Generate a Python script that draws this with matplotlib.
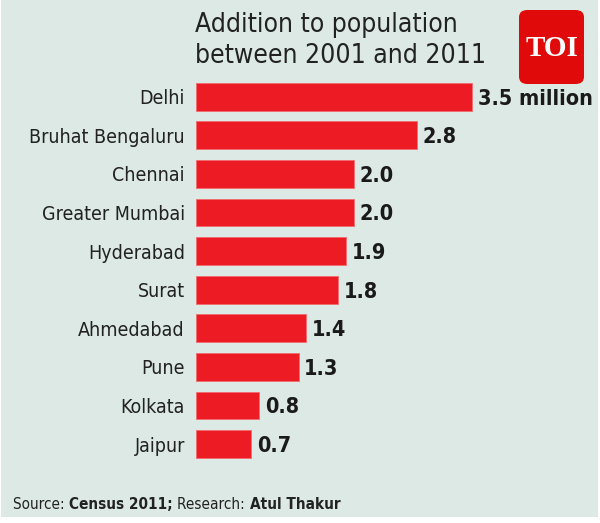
import matplotlib
matplotlib.use("Agg")
import matplotlib.pyplot as plt
from matplotlib.patches import Rectangle, FancyBboxPatch

# data
cities = ["Delhi", "Bruhat Bengaluru", "Chennai", "Greater Mumbai", "Hyderabad",
          "Surat", "Ahmedabad", "Pune", "Kolkata", "Jaipur"]
added = [3.5, 2.8, 2.0, 2.0, 1.9, 1.8, 1.4, 1.3, 0.8, 0.7]
value_text = ["3.5 million", "2.8", "2.0", "2.0", "1.9", "1.8", "1.4", "1.3", "0.8", "0.7"]

BG = "#dce9e4"
RED = "#ed1c24"
plt.rcParams["font.family"] = ["DejaVu Sans"]
plt.rcParams["font.stretch"] = "condensed"

fig = plt.figure(figsize=(6, 5.23), dpi=100, facecolor="white")
fig.patches.append(Rectangle((1/600, 6/523), 597/600, 517/523, transform=fig.transFigure,
                             facecolor=BG, edgecolor="none", zorder=-5))

# 1 unit ~ 79 px, bars start at x=196
ax = fig.add_axes([196/600, 0.114, 394.5/600, 0.738])
ax.set_facecolor("none")
ypos = list(range(len(cities)))
ax.barh(ypos, added, height=0.72, color=RED, edgecolor="#f26b6f", linewidth=0.6)
ax.set_xlim(0, 5)
ax.set_ylim(9.5, -0.5)
ax.set_yticks(ypos)
ax.set_yticklabels(cities, fontsize=14, color="#222222")
ax.tick_params(axis="y", length=0, pad=8)
ax.set_xticks([])
for s in ax.spines.values():
    s.set_visible(False)

for y, v, t in zip(ypos, added, value_text):
    ax.text(v + 0.07, y + 0.05, t, va="center", ha="left", fontsize=15.5,
            fontweight="bold", color="#1a1a1a")

fig.text(195/600, 1 - 12/523, "Addition to population\nbetween 2001 and 2011",
         ha="left", va="top", fontsize=19, color="#222222", linespacing=1.25)

# source line, normal + bold pieces
src = [("Source: ", "normal"), ("Census 2011; ", "bold"), ("Research: ", "normal"),
       ("Atul Thakur", "bold")]
r = fig.canvas.get_renderer()
x = 13 / 600
for s, w in src:
    t = fig.text(x, 1 - 509/523, s, ha="left", va="baseline", fontsize=11,
                 fontweight=w, color="#222222")
    x += t.get_window_extent(renderer=r).width / 600

# TOI logo
logo = FancyBboxPatch((519/600, 1 - 84/523), 65/600, 74/523,
                      boxstyle="round,pad=0,rounding_size=0.014",
                      transform=fig.transFigure, facecolor="#e10a0a",
                      edgecolor="none", zorder=2)
fig.patches.append(logo)
fig.text(552/600, 1 - 48/523, "TOI", ha="center", va="center", fontsize=21,
         fontweight="bold", family="Liberation Serif", fontstretch="normal",
         color="white", zorder=3)

fig.savefig("out.png", dpi=100, facecolor="white")
